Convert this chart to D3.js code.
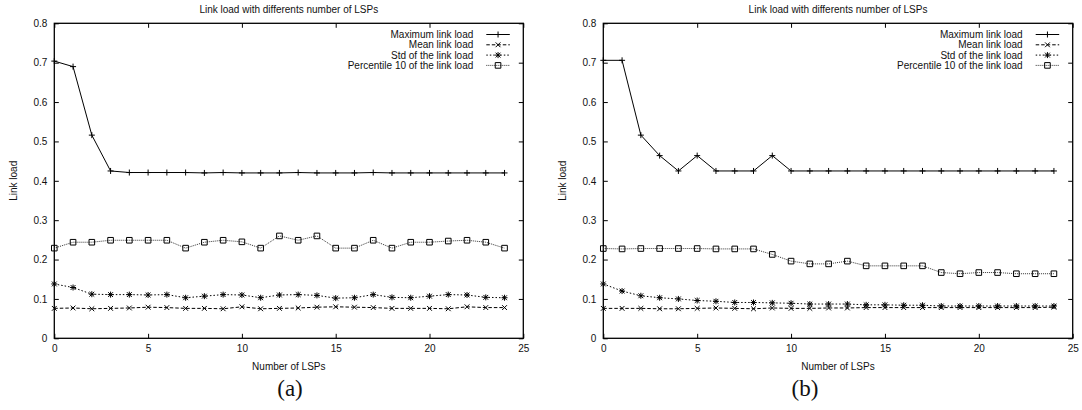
<!DOCTYPE html>
<html>
<head>
<meta charset="utf-8">
<script src="https://cdn.jsdelivr.net/npm/d3@7/dist/d3.min.js"></script>
<style>
  html, body { margin: 0; padding: 0; background: #fff; }
  svg { display: block; }
  text { font-family: "Liberation Sans", Arial, Helvetica, sans-serif; fill: #111; }
</style>
</head>
<body>
<svg id="chart" width="1082" height="410"></svg>
<script>
// ---------- data ----------
const lspCounts = d3.range(0, 25); // 0..24
const xTicks = [0, 5, 10, 15, 20, 25];
const yTicks = [0, 0.1, 0.2, 0.3, 0.4, 0.5, 0.6, 0.7, 0.8];
const yTickLabels = ["0", "0.1", "0.2", "0.3", "0.4", "0.5", "0.6", "0.7", "0.8"];
const chartTitle = "Link load with differents number of LSPs";
const xAxisLabel = "Number of LSPs";
const yAxisLabel = "Link load";
const seriesNames = ["Maximum link load", "Mean link load", "Std of the link load", "Percentile 10 of the link load"];
const panelCaptions = ["(a)", "(b)"];

// panel (a)
const maxA  = [0.704,0.690,0.516,0.425,0.421,0.421,0.421,0.421,0.420,0.421,0.420,0.420,0.420,0.421,0.420,0.420,0.420,0.421,0.420,0.420,0.420,0.420,0.420,0.420,0.420];
const meanA = [0.076,0.077,0.075,0.076,0.077,0.079,0.078,0.076,0.076,0.075,0.080,0.075,0.076,0.077,0.079,0.080,0.079,0.078,0.076,0.076,0.076,0.075,0.080,0.078,0.078];
const stdA  = [0.138,0.129,0.112,0.111,0.111,0.110,0.111,0.103,0.107,0.111,0.110,0.103,0.110,0.111,0.109,0.102,0.103,0.111,0.104,0.103,0.107,0.111,0.110,0.104,0.103];
const pctA  = [0.229,0.244,0.244,0.249,0.249,0.249,0.249,0.229,0.244,0.249,0.245,0.229,0.260,0.249,0.260,0.229,0.229,0.249,0.229,0.244,0.244,0.247,0.249,0.244,0.229];

// panel (b)
const maxB  = [0.706,0.706,0.516,0.464,0.425,0.464,0.425,0.425,0.425,0.464,0.425,0.425,0.425,0.425,0.425,0.425,0.425,0.425,0.425,0.425,0.425,0.425,0.425,0.425,0.425];
const meanB = [0.076,0.076,0.076,0.075,0.075,0.076,0.077,0.076,0.075,0.077,0.076,0.076,0.077,0.077,0.078,0.078,0.078,0.078,0.078,0.078,0.078,0.078,0.078,0.078,0.079];
const stdB  = [0.138,0.120,0.108,0.103,0.100,0.096,0.094,0.091,0.091,0.090,0.089,0.087,0.087,0.087,0.085,0.085,0.084,0.084,0.082,0.082,0.082,0.082,0.082,0.082,0.082];
const pctB  = [0.228,0.227,0.228,0.228,0.228,0.228,0.227,0.227,0.227,0.213,0.196,0.189,0.189,0.196,0.184,0.184,0.184,0.184,0.167,0.164,0.167,0.167,0.164,0.164,0.164];

// ---------- drawing ----------
const svg = d3.select("#chart");

const styles = [
  { dash: null,    color: "#000", marker: "plus"   },
  { dash: "3.5,2", color: "#000", marker: "cross"  },
  { dash: "1.5,2", color: "#000", marker: "star"   },
  { dash: "1,1",   color: "#333", marker: "square" }
];

function markerPath(type) {
  const p = d3.path();
  if (type === "plus" || type === "star") {
    p.moveTo(-3, 0); p.lineTo(3, 0);
    p.moveTo(0, -3); p.lineTo(0, 3);
  }
  if (type === "cross" || type === "star") {
    p.moveTo(-2.4, -2.4); p.lineTo(2.4, 2.4);
    p.moveTo(-2.4, 2.4); p.lineTo(2.4, -2.4);
  }
  if (type === "square") {
    p.rect(-2.8, -2.8, 5.6, 5.6);
  }
  return p.toString();
}

function drawPanel(cfg) {
  const { left, right, top, bottom, series, caption, captionX } = cfg;
  const x = d3.scaleLinear().domain([0, 25]).range([left, right]);
  const y = d3.scaleLinear().domain([0, 0.8]).range([bottom, top]);
  const g = svg.append("g");

  // title
  g.append("text")
    .attr("x", (left + right) / 2).attr("y", 9)
    .attr("text-anchor", "middle").attr("dominant-baseline", "central")
    .style("font-size", "10px").text(chartTitle);

  // axes with inward ticks on all sides
  const tickLen = 4.5;
  const axB = d3.axisBottom(x).tickValues(xTicks).tickSize(-tickLen).tickPadding(7).tickFormat(d3.format("d"));
  const axT = d3.axisTop(x).tickValues(xTicks).tickSize(-tickLen).tickFormat("");
  const axL = d3.axisLeft(y).tickValues(yTicks).tickSize(-tickLen).tickPadding(7).tickFormat((d, i) => yTickLabels[i]);
  const axR = d3.axisRight(y).tickValues(yTicks).tickSize(-tickLen).tickFormat("");

  const gb = g.append("g").attr("transform", `translate(0,${bottom})`).call(axB);
  const gt = g.append("g").attr("transform", `translate(0,${top})`).call(axT);
  const gl = g.append("g").attr("transform", `translate(${left},0)`).call(axL);
  const gr = g.append("g").attr("transform", `translate(${right},0)`).call(axR);
  [gb, gt, gl, gr].forEach(a => {
    a.select(".domain").remove();
    a.selectAll(".tick line").attr("stroke", "#000").attr("stroke-width", 1);
    a.selectAll(".tick text").style("font-size", "10px").style("font-family", '"Liberation Sans", Arial, sans-serif').attr("fill", "#111");
  });
  // border
  g.append("rect")
    .attr("x", x(0)).attr("y", y(0.8))
    .attr("width", x(25) - x(0)).attr("height", y(0) - y(0.8))
    .attr("fill", "none").attr("stroke", "#000").attr("stroke-width", 1.3);

  // axis labels
  g.append("text")
    .attr("x", (left + right) / 2).attr("y", 366)
    .attr("text-anchor", "middle").attr("dominant-baseline", "central")
    .style("font-size", "10px").text(xAxisLabel);
  g.append("text")
    .attr("transform", `translate(${left - 41},${(top + bottom) / 2}) rotate(-90)`)
    .attr("text-anchor", "middle").attr("dominant-baseline", "central")
    .style("font-size", "10px").text(yAxisLabel);

  // series
  const line = d3.line().x((d, i) => x(lspCounts[i])).y(d => y(d));
  series.forEach((vals, si) => {
    const st = styles[si];
    g.append("path")
      .attr("d", line(vals))
      .attr("fill", "none").attr("stroke", st.color).attr("stroke-width", 1)
      .attr("stroke-dasharray", st.dash);
    g.selectAll(null).data(vals).enter().append("path")
      .attr("transform", (d, i) => `translate(${x(lspCounts[i])},${y(d)})`)
      .attr("d", markerPath(st.marker))
      .attr("fill", "none").attr("stroke", "#000").attr("stroke-width", 1);
  });

  // legend
  const textEnd = right - 50;
  const lineStart = right - 37;
  const lineEnd = right - 13.5;
  const rowY = [34.5, 44.8, 55.1, 65.4];
  seriesNames.forEach((name, si) => {
    const st = styles[si];
    const yy = rowY[si];
    g.append("text")
      .attr("x", textEnd).attr("y", yy)
      .attr("text-anchor", "end").attr("dominant-baseline", "central")
      .style("font-size", "10px").text(name);
    g.append("line")
      .attr("x1", lineStart).attr("x2", lineEnd).attr("y1", yy).attr("y2", yy)
      .attr("stroke", st.color).attr("stroke-width", 1).attr("stroke-dasharray", st.dash);
    g.append("path")
      .attr("transform", `translate(${(lineStart + lineEnd) / 2},${yy})`)
      .attr("d", markerPath(st.marker))
      .attr("fill", "none").attr("stroke", "#000").attr("stroke-width", 1);
  });

  // caption
  g.append("text")
    .attr("x", captionX).attr("y", 388)
    .attr("text-anchor", "middle").attr("dominant-baseline", "central")
    .style("font-family", '"Liberation Serif", "DejaVu Serif", serif')
    .style("font-size", "23px").text(caption);
}

drawPanel({ left: 54.3, right: 523.3, top: 23.3, bottom: 338.3,
  series: [maxA, meanA, stdA, pctA], caption: panelCaptions[0], captionX: 290 });
drawPanel({ left: 603.3, right: 1072.7, top: 23.3, bottom: 338.3,
  series: [maxB, meanB, stdB, pctB], caption: panelCaptions[1], captionX: 805 });
</script>
</body>
</html>
